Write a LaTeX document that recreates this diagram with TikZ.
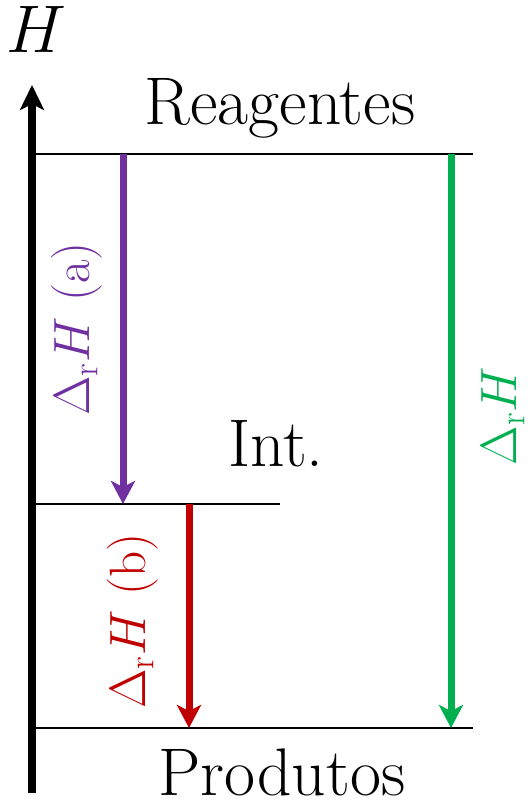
\RequirePackage{fix-cm}
\documentclass[tikz,border=0pt]{standalone}
\usetikzlibrary{arrows.meta}
\definecolor{cpurple}{HTML}{7030A0}
\definecolor{cred}{HTML}{C00000}
\definecolor{cgreen}{HTML}{00B050}
\begin{document}
\begin{tikzpicture}[x=0.5pt,y=-0.5pt,
  big/.style={font=\fontsize{33.7}{40}\selectfont, inner sep=0pt, anchor=base},
  lab/.style={font=\fontsize{25.5}{30}\selectfont, inner sep=0pt, rotate=90},
  level/.style={line width=0.75pt},
  darrow/.style={line width=3.5pt, -{Stealth[length=11.5pt,width=12pt,inset=3pt]}},
  axisarrow/.style={line width=4pt, -{Stealth[length=12.5pt,width=12pt,inset=3pt]}}]
\useasboundingbox (0,0) rectangle (530,802);
% axis
\coordinate (ax0) at (32,793);
\coordinate (ax1) at (32,85);
\draw[axisarrow] (ax0) -- (ax1);
\node[big] (H) at (36,53) {$H$};
% levels
\coordinate (rL) at (35,154); \coordinate (rR) at (473,154);
\coordinate (iL) at (35,504); \coordinate (iR) at (280,504);
\coordinate (pL) at (35,728); \coordinate (pR) at (473,728);
\draw[level] (rL) -- (rR);
\draw[level] (iL) -- (iR);
\draw[level] (pL) -- (pR);
\node[big] (reag) at (280,125) {Reagentes};
\node[big] (int) at (276,466) {Int.};
\node[big] (prod) at (282,795) {Produtos};
% arrows
\coordinate (a0) at (123,154); \coordinate (a1) at (123,504);
\coordinate (b0) at (189,504); \coordinate (b1) at (189,728);
\coordinate (c0) at (451,154); \coordinate (c1) at (451,728);
\draw[darrow, cpurple] (a0) -- (a1);
\draw[darrow, cred] (b0) -- (b1);
\draw[darrow, cgreen] (c0) -- (c1);
\node[lab, text=cpurple] (la) at (77,329) {$\Delta_{\mathrm{r}}H$~(a)};
\node[lab, text=cred] (lb) at (133,621) {$\Delta_{\mathrm{r}}H$~(b)};
\node[lab, text=cgreen] (lc) at (503,416) {$\Delta_{\mathrm{r}}H$};
\end{tikzpicture}
\end{document}
